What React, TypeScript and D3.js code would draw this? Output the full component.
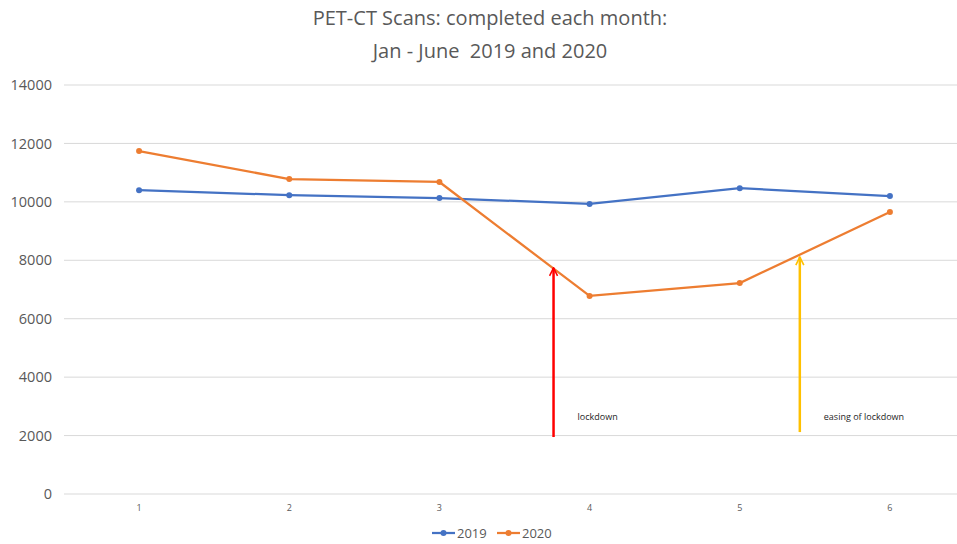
import { useEffect, useRef } from "react";
import * as d3 from "d3";

const months = [1, 2, 3, 4, 5, 6];
const scans2019 = [10400, 10230, 10130, 9930, 10470, 10200];
const scans2020 = [11740, 10780, 10680, 6780, 7220, 9650];
const yTicks = [0, 2000, 4000, 6000, 8000, 10000, 12000, 14000];

// annotation arrows: [month position, from value, to value]
const arrowLabels = ["lockdown", "easing of lockdown"];
const arrowX = [3.76, 5.4];
const arrowFrom = [1950, 2120];
const arrowTo = [7740, 8110];
const arrowColors = ["#ff0000", "#ffc000"];

const seriesNames = ["2019", "2020"];
const seriesColors = ["#4472c4", "#ed7d31"];

export default function App() {
  const svgRef = useRef<SVGSVGElement>(null);

  useEffect(() => {
    if (!svgRef.current) return;
    const svg = d3.select(svgRef.current);
    svg.selectAll("*").remove();

    const W = 957;
    const H = 544;
    const margin = { top: 85, right: 0, bottom: 50, left: 64 };
    const plotRight = 965;
    const plotBottom = H - margin.bottom;

    const font = "'Open Sans', 'Liberation Sans', sans-serif";

    svg.append("rect").attr("width", W).attr("height", H).attr("fill", "#fff");

    const x = d3
      .scaleBand<number>()
      .domain(months)
      .range([margin.left, plotRight]);
    const xPos = (m: number) => x(Math.floor(m))! + x.bandwidth() / 2 + (m - Math.floor(m)) * x.bandwidth();

    const y = d3.scaleLinear().domain([0, 14000]).range([plotBottom, margin.top]);

    // Title
    const title = svg
      .append("text")
      .attr("text-anchor", "middle")
      .attr("fill", "#595959")
      .style("font-family", font)
      .style("font-size", "20px");
    title.append("tspan").attr("x", 490).attr("y", 25).text("PET-CT Scans: completed each month:");
    title.append("tspan").attr("x", 490).attr("y", 58).attr("xml:space", "preserve").text("Jan - June  2019 and 2020");

    // Grid
    svg
      .append("g")
      .selectAll("line")
      .data(yTicks)
      .enter()
      .append("line")
      .attr("x1", margin.left)
      .attr("x2", plotRight)
      .attr("y1", (d) => y(d))
      .attr("y2", (d) => y(d))
      .attr("stroke", "#d9d9d9")
      .attr("stroke-width", 1);

    // Y axis labels
    svg
      .append("g")
      .selectAll("text")
      .data(yTicks)
      .enter()
      .append("text")
      .attr("x", 52)
      .attr("y", (d) => y(d))
      .attr("dy", "0.35em")
      .attr("text-anchor", "end")
      .attr("fill", "#595959")
      .style("font-family", font)
      .style("font-size", "14.5px")
      .text((d) => d);

    // X axis labels
    svg
      .append("g")
      .selectAll("text")
      .data(months)
      .enter()
      .append("text")
      .attr("x", (d) => xPos(d))
      .attr("y", 511)
      .attr("text-anchor", "middle")
      .attr("fill", "#595959")
      .style("font-family", font)
      .style("font-size", "9px")
      .text((d) => d);

    // Lines
    const line = d3
      .line<number>()
      .x((_, i) => xPos(months[i]))
      .y((d) => y(d));

    [scans2019, scans2020].forEach((series, si) => {
      svg
        .append("path")
        .datum(series)
        .attr("fill", "none")
        .attr("stroke", seriesColors[si])
        .attr("stroke-width", 2.25)
        .attr("d", line);
      svg
        .append("g")
        .selectAll("circle")
        .data(series)
        .enter()
        .append("circle")
        .attr("cx", (_, i) => xPos(months[i]))
        .attr("cy", (d) => y(d))
        .attr("r", 3)
        .attr("fill", seriesColors[si]);
    });

    // Arrows
    const defs = svg.append("defs");
    arrowColors.forEach((c, i) => {
      defs
        .append("marker")
        .attr("id", `arrow${i}`)
        .attr("viewBox", "0 0 10 10")
        .attr("refX", 9)
        .attr("refY", 5)
        .attr("markerWidth", 4)
        .attr("markerHeight", 4)
        .attr("orient", "auto")
        .append("path")
        .attr("d", "M1,1 L9,5 L1,9")
        .attr("fill", "none")
        .attr("stroke", c)
        .attr("stroke-width", 1.6);
    });

    arrowLabels.forEach((label, i) => {
      const ax = xPos(arrowX[i]);
      svg
        .append("line")
        .attr("x1", ax)
        .attr("x2", ax)
        .attr("y1", y(arrowFrom[i]))
        .attr("y2", y(arrowTo[i]))
        .attr("stroke", arrowColors[i])
        .attr("stroke-width", 2.5)
        .attr("marker-end", `url(#arrow${i})`);
      svg
        .append("text")
        .attr("x", ax + 24)
        .attr("y", 420)
        .attr("fill", "#262626")
        .style("font-family", font)
        .style("font-size", "9px")
        .text(label);
    });

    // Legend
    const legend = svg.append("g").attr("transform", "translate(432,533)");
    seriesNames.forEach((name, i) => {
      const g = legend.append("g").attr("transform", `translate(${i * 65},0)`);
      g.append("line")
        .attr("x1", 0)
        .attr("x2", 23)
        .attr("y1", 0)
        .attr("y2", 0)
        .attr("stroke", seriesColors[i])
        .attr("stroke-width", 2.25);
      g.append("circle").attr("cx", 11.5).attr("cy", 0).attr("r", 3).attr("fill", seriesColors[i]);
      g.append("text")
        .attr("x", 25)
        .attr("y", 0)
        .attr("dy", "0.35em")
        .attr("fill", "#595959")
        .style("font-family", font)
        .style("font-size", "13px")
        .text(name);
    });
  }, []);

  return (
    <svg
      ref={svgRef}
      width={957}
      height={544}
      style={{ position: "absolute", left: 0, top: 0, display: "block" }}
    />
  );
}
